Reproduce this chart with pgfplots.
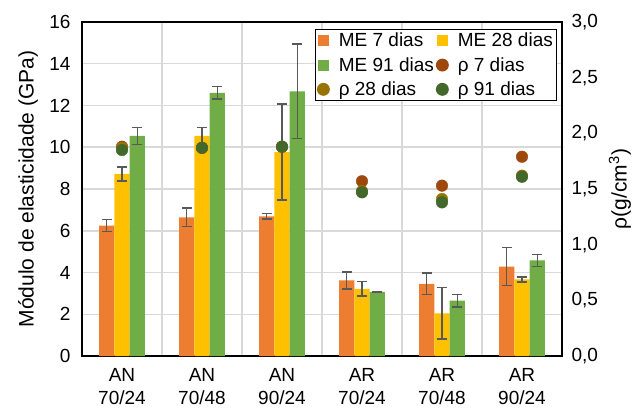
\documentclass[border=0pt]{standalone}
\usepackage{fontspec}
\setmainfont{Liberation Sans}
\usepackage{pgfplots}
\usepackage{pgfplotstable}
\pgfplotsset{compat=1.18}

\definecolor{me7}{HTML}{ED7D31}
\definecolor{me28}{HTML}{FFC000}
\definecolor{me91}{HTML}{70AD47}
\definecolor{rho7}{HTML}{9E480E}
\definecolor{rho28}{HTML}{997300}
\definecolor{rho91}{HTML}{43682B}
\definecolor{gridc}{HTML}{D9D9D9}
\definecolor{errc}{HTML}{595959}

% modulus (GPa) with standard deviation, and density (g/cm3)
\pgfplotstableread{
x me7  e7   me28  e28  me91  e91  r7   r28  r91
0 6.24 0.29 8.72  0.33 10.54 0.40 1.88 1.87 1.85
1 6.64 0.45 10.54 0.40 12.61 0.30 1.87 1.87 1.87
2 6.69 0.12 9.77  2.30 12.68 2.26 1.88 1.88 1.88
3 3.62 0.41 3.22  0.34 3.07  0.02 1.57 1.48 1.47
4 3.46 0.52 2.04  1.23 2.65  0.30 1.53 1.41 1.38
5 4.28 0.91 3.67  0.12 4.58  0.28 1.79 1.62 1.61
}\datatable

\pgfplotsset{
  sqlegend/.style={legend image code/.code={\fill[##1] (0pt,-5.5pt) rectangle (11pt,5.5pt);}},
  errstyle/.style={error bars/.cd, y dir=both, y explicit,
    error bar style={errc, line width=1.3pt},
    error mark options={errc, rotate=90, mark size=5pt, line width=1.3pt}},
}

\begin{document}
\begin{tikzpicture}
\begin{axis}[
  at={(0pt,0pt)}, anchor=south west,
  scale only axis, width=480pt, height=334pt,
  xmin=-0.5, xmax=5.5, ymin=0, ymax=16,
  ytick={0,2,...,16},
  xtick={0,...,5},
  xticklabels={{AN\\70/24},{AN\\70/48},{AN\\90/24},{AR\\70/24},{AR\\70/48},{AR\\90/24}},
  xticklabel style={align=center, font=\fontsize{19}{22.5}\selectfont, yshift=-5pt},
  yticklabel style={font=\fontsize{19}{22}\selectfont, xshift=-8pt},
  /pgf/number format/assume math mode=true,
  minor xtick={0.5,1.5,...,4.5},
  xminorgrids, ymajorgrids,
  grid style={gridc, line width=1.5pt},
  minor grid style={gridc, line width=1.5pt},
  tick style={draw=none},
  axis line style={black, line width=1.5pt},
  ylabel={Módulo de elasticidade (GPa)},
  ylabel style={at={(axis description cs:0,0.5)}, anchor=center, yshift=54pt,
    font=\fontsize{21}{24}\selectfont},
  ybar=0pt, bar width=15.3pt,
  legend columns=2,
  legend cell align=left,
  legend style={at={(0.9896,0.979)}, anchor=north east, draw=black, line width=1.3pt,
    font=\fontsize{19}{22}\selectfont, inner sep=1.5pt, row sep=5pt,
    /tikz/every odd column/.append style={column sep=7pt}},
]
\addplot[fill=me7, draw=none, sqlegend, errstyle] table[x=x, y=me7, y error=e7] {\datatable};
\addlegendentry{ME 7 dias}
\addplot[fill=me28, draw=none, sqlegend, errstyle] table[x=x, y=me28, y error=e28] {\datatable};
\addlegendentry{ME 28 dias}
\addplot[fill=me91, draw=none, sqlegend, errstyle] table[x=x, y=me91, y error=e91] {\datatable};
\addlegendentry{ME 91 dias}
\addlegendimage{legend image code/.code={\fill[rho7] (5pt,0pt) circle (5.8pt);}}
\addlegendentry{ρ 7 dias}
\addlegendimage{legend image code/.code={\fill[rho28] (5pt,0pt) circle (5.8pt);}}
\addlegendentry{ρ 28 dias}
\addlegendimage{legend image code/.code={\fill[rho91] (5pt,0pt) circle (5.8pt);}}
\addlegendentry{ρ 91 dias}
\end{axis}

\begin{axis}[
  at={(0pt,0pt)}, anchor=south west,
  scale only axis, width=480pt, height=334pt,
  xmin=-0.5, xmax=5.5, ymin=0, ymax=3,
  axis x line=none,
  axis y line*=right,
  axis line style={black, line width=1.5pt},
  tick style={draw=none},
  ytick={0,0.5,...,3},
  yticklabel style={font=\fontsize{19}{22}\selectfont, xshift=6pt,
    /pgf/number format/.cd, fixed, fixed zerofill, precision=1, use comma},
  /pgf/number format/assume math mode=true,
  ylabel={ρ(g/cm\textsuperscript{3})},
  ylabel style={at={(axis description cs:1,0.5)}, anchor=center, yshift=-58pt,
    font=\fontsize{21}{24}\selectfont},
]
\addplot[only marks, mark=*, mark size=5.8pt, color=rho7] table[x=x, y=r7] {\datatable};
\addplot[only marks, mark=*, mark size=5.8pt, color=rho28] table[x=x, y=r28] {\datatable};
\addplot[only marks, mark=*, mark size=5.8pt, color=rho91] table[x=x, y=r91] {\datatable};
\end{axis}
\pgfresetboundingbox
\path (-82pt,-54pt) rectangle (550pt,356pt);
\end{tikzpicture}
\end{document}
